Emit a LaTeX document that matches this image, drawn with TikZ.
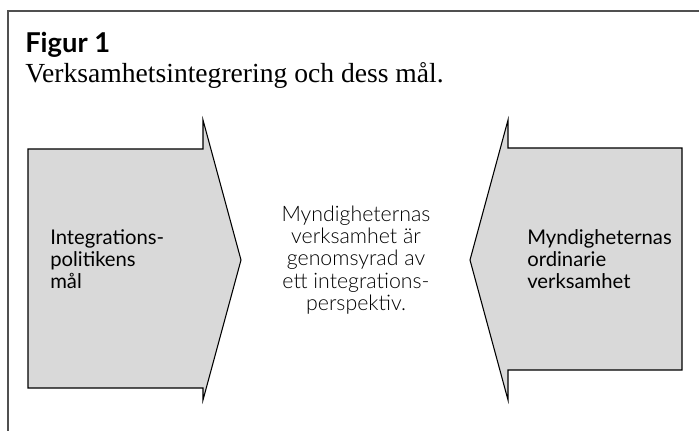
\documentclass[tikz,border=0pt]{standalone}
\usepackage{fontspec}
\setmainfont{Liberation Serif}
\newfontfamily\gillfont{Lato}
\newfontfamily\gilllight{Lato Light}
\usetikzlibrary{positioning}
\definecolor{arrowgray}{RGB}{217,217,217}
\definecolor{framegray}{RGB}{80,80,80}
\tikzset{
  arrowshape/.style={draw=black,line width=0.8pt,fill=arrowgray,line join=miter},
  arrowtext/.style={inner sep=0pt,align=left,font=\gillfont\fontsize{15.2}{16.6}\selectfont},
  midtext/.style={inner sep=0pt,align=center,font=\gilllight\fontsize{16}{16.6}\selectfont},
}

\begin{document}
\begin{tikzpicture}[x=0.75pt,y=-0.75pt]
\useasboundingbox (0,0) rectangle (699,431);
\draw[framegray,line width=1.3pt] (8,431) -- (8,11) -- (699,11);
\node[anchor=base west,inner sep=0pt,font=\gillfont\bfseries\fontsize{20.5}{24}\selectfont] (figno) at (25,53) {Figur 1};
\node[anchor=base west,inner sep=0pt,font=\fontsize{20.7}{24}\selectfont] (figtitle) at (25,83) {Verksamhetsintegrering och dess mål.};
% arrows
\path[arrowshape] (28,149) -- (203,149) -- (203,120) -- (241,260) -- (203,400) -- (203,388) -- (28,388) -- cycle;
\path[arrowshape] (682,148) -- (508,148) -- (508,120) -- (470,260) -- (508,400) -- (508,370) -- (682,370) -- cycle;
\node[arrowtext,anchor=west] (goal) at (50,259) {Integrations-\\politikens\\mål};
\node[midtext] (mid) at (356,260) {Myndigheternas\\verksamhet är\\genomsyrad av\\ett integrations-\\perspektiv.};
\node[arrowtext,anchor=west] (ordin) at (527,259) {Myndigheternas\\ordinarie\\verksamhet};
\end{tikzpicture}
\end{document}
